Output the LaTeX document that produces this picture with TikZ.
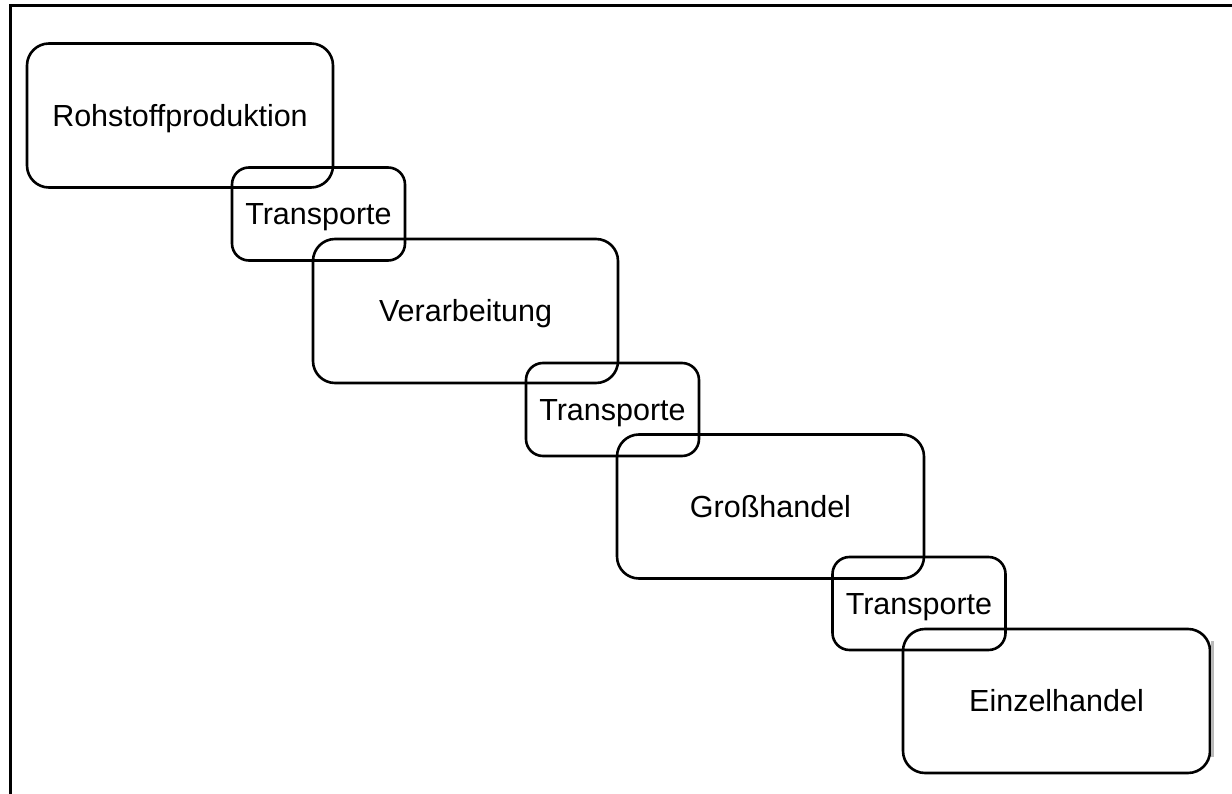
\documentclass[tikz,border=0pt]{standalone}
\usepackage{fontspec}
\setmainfont{Liberation Sans}
\begin{document}
\begin{tikzpicture}[x=1pt,y=-1pt,
  boxtext/.style={inner sep=0pt, text height=21.8pt, text depth=0pt, font=\fontsize{30.5}{36}\selectfont},
  bigbox/.style={boxtext, draw=black, line width=2.6pt, rounded corners=22pt, minimum width=#1, minimum height=144pt},
  smallbox/.style={boxtext, draw=black, line width=2.6pt, rounded corners=17pt, minimum width=173pt, minimum height=93pt},
  frameline/.style={draw=black, line width=3pt}]
\useasboundingbox (0,0) rectangle (1232,794);
\coordinate (ftl) at (10,6);
\coordinate (ftr) at (1232,6);
\coordinate (fbl) at (10,794);
\draw[frameline] (ftr) -- (ftl) -- (fbl);
\node[bigbox=306pt] (r) at (180,115.5) {Rohstoffproduktion};
\node[smallbox] (t1) at (318.5,214) {Transporte};
\node[bigbox=305pt] (v) at (465.5,311) {Verarbeitung};
\node[smallbox] (t2) at (612.5,409.5) {Transporte};
\node[bigbox=307pt] (g) at (770.5,506.5) {Großhandel};
\node[smallbox] (t3) at (919,603.5) {Transporte};
\node[bigbox=307pt] (e) at (1056.5,701) {Einzelhandel};
\fill[gray!55] (1211,641) rectangle (1214,757);
\end{tikzpicture}
\end{document}
